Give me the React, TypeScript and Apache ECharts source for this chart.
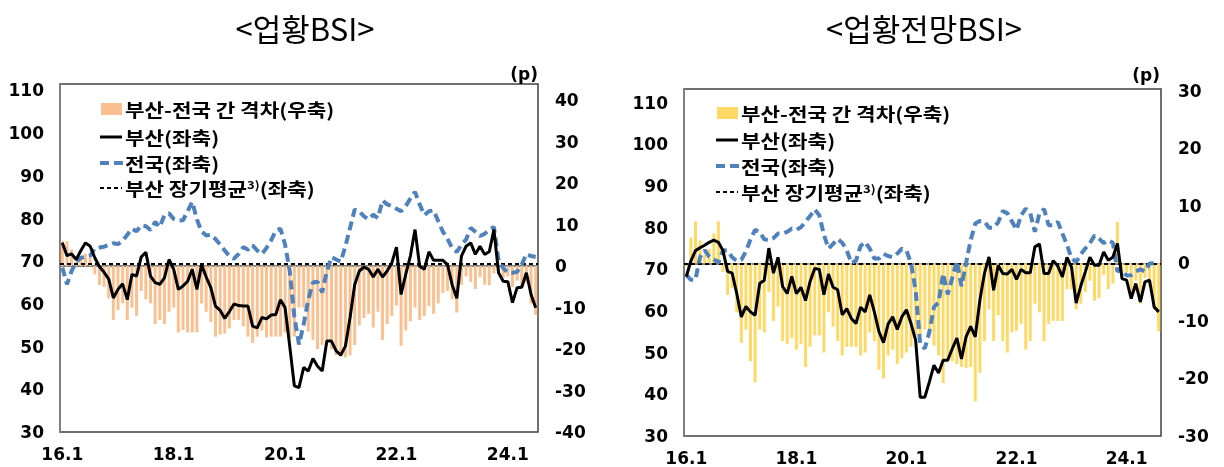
import React, { useEffect, useRef } from "react";
import * as echarts from "echarts";

// ---------- categories ----------
const months: string[] = [];
for (let y = 16; y <= 24; y++) for (let m = 1; m <= 12; m++) months.push(`${y}.${m}`);
const catsA = months.slice(0, 103); // 16.1 ~ 24.7
const catsB = months.slice(0, 104); // 16.1 ~ 24.8

// ---------- 업황BSI ----------
const busanA = [74.3, 71.3, 71.7, 70.4, 72.5, 74.3, 73.5, 70.8, 68.7, 67.4,
  65.8, 61.4, 63.4, 64.7, 61.0, 66.9, 66.5, 71.0, 72.1, 66.5,
  65.0, 64.6, 66.1, 70.4, 68.1, 63.4, 64.2, 65.3, 68.1, 63.4,
  69.2, 66.3, 63.8, 59.5, 58.5, 56.6, 58.2, 60.0, 59.6, 59.5,
  59.5, 54.8, 54.4, 56.8, 56.5, 57.4, 57.5, 61.0, 59.1, 50.1,
  40.8, 40.4, 45.1, 44.3, 47.2, 45.4, 44.3, 51.3, 51.3, 49.0,
  48.0, 50.1, 56.8, 64.5, 67.7, 68.6, 68.1, 66.3, 68.1, 66.3,
  67.7, 69.6, 73.3, 62.2, 66.9, 71.2, 77.4, 68.8, 68.1, 72.2,
  70.2, 70.2, 70.2, 69.2, 64.5, 61.3, 71.2, 73.5, 74.3, 71.6,
  73.5, 71.6, 72.2, 77.4, 67.3, 65.3, 65.2, 60.3, 63.8, 63.9,
  67.3, 62.2, 59.1];
const nationA = [68.5, 64.6, 67.7, 69.9, 70.8, 71.0, 71.3, 73.0, 73.2, 73.4,
  73.8, 74.2, 74.0, 74.8, 76.2, 77.6, 77.0, 78.4, 78.2, 77.3,
  79.2, 78.0, 80.8, 81.2, 79.9, 79.5, 79.6, 81.7, 83.9, 79.8,
  77.0, 76.0, 76.2, 75.2, 73.9, 72.5, 71.2, 70.6, 71.7, 73.3,
  72.7, 73.7, 72.5, 71.7, 73.1, 74.9, 77.2, 77.6, 73.9, 67.7,
  57.0, 50.5, 55.2, 61.0, 65.0, 65.2, 62.7, 67.6, 71.0, 70.4,
  69.9, 73.5, 77.8, 82.1, 81.7, 80.5, 79.8, 80.9, 80.1, 84.2,
  83.3, 82.9, 82.3, 81.7, 82.9, 84.7, 86.2, 83.3, 80.8, 81.7,
  81.9, 79.4, 76.9, 75.3, 73.0, 72.2, 73.8, 75.1, 77.8, 76.9,
  75.9, 76.4, 77.4, 78.0, 70.2, 68.4, 67.3, 67.3, 67.5, 69.2,
  71.7, 71.2, 71.0];
const gapA = [6, 6, 4, 1, 2, 3, 2, -2, -4.6, -5,
  -7.8, -13, -10.6, -9, -13, -10, -12, -6, -8, -9,
  -14, -13, -14, -11, -10, -16, -15.4, -16, -16, -16,
  -9, -11, -13.5, -17, -16.5, -16.3, -15, -13, -13, -14.5,
  -17, -18.5, -17, -15.5, -17.2, -17, -17, -17, -16, -17.5,
  -17, -10, -10, -15.8, -17.8, -20, -19, -18, -20, -21.5,
  -21.8, -22, -21.5, -19, -14.3, -12.5, -11.5, -14.8, -11, -17.8,
  -14, -12, -9.5, -19.2, -15.5, -13.3, -10, -13, -12, -9.6,
  -11.5, -9, -6.5, -6, -8, -11.2, -4.5, -2.5, -3.8, -5.5,
  -2.6, -4.5, -4.6, -1.8, -1.5, -2.8, -2.5, -5, -3.5, -5,
  -4, -9, -11.8];
const avgA = 69.3;

// ---------- 업황전망BSI ----------
const busanB = [68.3, 72.0, 74.5, 75.2, 75.8, 76.5, 77.0, 76.5, 74.5, 69.5,
  69.1, 64.2, 58.6, 61.1, 59.8, 59.0, 66.6, 67.4, 75.1, 69.1,
  72.9, 65.9, 64.2, 68.3, 64.2, 65.7, 62.5, 67.1, 70.2, 70.0,
  63.9, 68.9, 65.7, 65.1, 59.1, 60.6, 58.2, 57.0, 60.9, 59.8,
  63.9, 59.8, 55.1, 52.4, 56.9, 58.6, 55.6, 58.6, 60.3, 57.0,
  53.0, 39.3, 39.3, 43.0, 47.0, 45.1, 48.2, 48.2, 51.0, 53.5,
  48.5, 53.8, 56.3, 53.8, 62.5, 69.0, 73.0, 65.0, 71.0, 69.0,
  68.9, 70.0, 67.6, 70.0, 69.2, 69.2, 75.4, 76.1, 69.0, 69.0,
  72.1, 70.8, 68.2, 72.9, 70.5, 61.9, 66.0, 69.4, 72.9, 71.0,
  71.0, 74.2, 72.2, 72.9, 76.2, 67.8, 67.4, 63.0, 66.6, 62.2,
  67.0, 67.4, 61.0, 59.8];
const nationB = [68.7, 67.5, 67.5, 73.0, 74.6, 73.0, 72.4, 71.6, 74.6, 74.5,
  72.9, 72.0, 72.3, 74.3, 77.2, 79.5, 79.0, 77.2, 77.0, 77.5,
  78.6, 78.6, 79.0, 79.8, 79.5, 80.1, 81.5, 82.8, 84.4, 83.0,
  78.3, 75.0, 76.1, 77.3, 76.4, 74.5, 71.5, 72.1, 75.6, 76.6,
  75.0, 72.6, 72.6, 73.7, 73.2, 72.9, 73.8, 75.0, 74.5, 71.5,
  65.0, 52.0, 51.0, 55.0, 61.0, 62.0, 69.0, 64.0, 68.0, 72.0,
  66.0, 71.5, 77.0, 81.0, 81.6, 81.5, 80.0, 80.0, 81.3, 84.0,
  83.5, 81.5, 79.5, 83.0, 84.6, 83.5, 79.0, 83.5, 84.5, 80.6,
  80.6, 81.4, 78.6, 75.9, 72.6, 71.8, 73.6, 75.0, 76.3, 78.1,
  77.4, 76.3, 77.0, 76.4, 69.5, 70.0, 68.5, 68.6, 69.5, 70.0,
  69.5, 71.4, 71.5, 71.5];
const gapB = [-0.5, 4.5, 7.3, 4, 1.5, 2.5, 5.2, 7.3, -1.5, -5.5,
  -4.3, -8.5, -13.8, -11.5, -17, -20.7, -11.5, -12, -5, -10,
  -7.5, -13.5, -14, -13, -15, -14, -18, -14.5, -12.5, -12.5,
  -15.5, -8.5, -11, -13.5, -16, -14.5, -14.5, -14.5, -16, -15.5,
  -12, -13.5, -18.5, -20, -16, -15, -17.5, -16.5, -15.5, -14.5,
  -12.5, -12.5, -11.5, -12, -14.3, -16, -20.8, -17, -17, -17.5,
  -18, -18.2, -18, -24, -19, -13.5, -8, -13.5, -9, -13.5,
  -15.5, -12, -11.7, -10.5, -15, -13.5, -7, -8.5, -13.5, -10.5,
  -10, -10, -10, -4.5, -4.5, -8, -7, -5, -3, -6.5,
  -6, -2, -4.5, -3.5, 7.2, -2.5, -1.5, -5.5, -3, -7,
  -2.5, -4, -8, -11.8];
const avgB = 71.3;

const NUM_FONT = "DejaVu Sans";
const KR_FONT = "Noto Sans CJK KR";
const BLUE = "#4F81BD";
const ORANGE = "#FAC090";
const YELLOW = "#FFD966";

function legendBlock(x0: number, ys: number[], barColor: string) {
  const iconL = x0, iconR = x0 + 22, tx = x0 + 25;
  const font = `bold 18px "${KR_FONT}"`;
  const SX = 1.18;
  const t = (text: string, y: number) => ({
    type: "text", x: tx, y, scaleX: SX,
    style: { text, font, fill: "#000", verticalAlign: "middle", lineHeight: 20 },
  });
  return [
    { type: "rect", shape: { x: iconL + 1, y: ys[0] - 6, width: 21, height: 12 }, style: { fill: barColor } },
    t("부산-전국 간 격차(우축)", ys[0]),
    { type: "line", shape: { x1: iconL, y1: ys[1], x2: iconR, y2: ys[1] }, style: { stroke: "#000", lineWidth: 3 } },
    t("부산(좌축)", ys[1]),
    { type: "line", shape: { x1: iconL, y1: ys[2], x2: iconR + 2, y2: ys[2] }, style: { stroke: BLUE, lineWidth: 4, lineDash: [9, 5] } },
    t("전국(좌축)", ys[2]),
    { type: "line", shape: { x1: iconL, y1: ys[3], x2: iconR, y2: ys[3] }, style: { stroke: "#000", lineWidth: 2, lineDash: [4, 3] } },
    {
      type: "text", x: tx, y: ys[3], scaleX: SX,
      style: {
        text: "{a|부산 장기평균}{s|3)}{a|(좌축)}",
        verticalAlign: "middle",
        rich: {
          a: { font, fill: "#000", lineHeight: 20 },
          s: { font: `bold 11px "${KR_FONT}"`, fill: "#000", verticalAlign: "top", lineHeight: 20 },
        },
      },
    },
  ];
}

function axisLabelStyle(extra: any = {}) {
  return { fontFamily: NUM_FONT, fontWeight: "bold", fontSize: 17, color: "#000", ...extra };
}

export default function App() {
  const ref = useRef<HTMLDivElement>(null);
  useEffect(() => {
    if (!ref.current) return;
    const chart = echarts.init(ref.current, undefined, { renderer: "svg" });
    const xAxisBase = (gridIndex: number, data: string[]) => ({
      type: "category", gridIndex, data, boundaryGap: true,
      axisLine: { show: true, lineStyle: { color: "#7f7f7f", width: 2 } },
      axisTick: { show: false },
      axisLabel: axisLabelStyle({ interval: (i: number) => i % 24 === 0, margin: 13 }),
      splitLine: { show: false },
    });
    const yLeft = (gridIndex: number, max: number) => ({
      type: "value", gridIndex, min: 30, max, interval: 10, position: "left",
      axisLine: { show: true, lineStyle: { color: "#7f7f7f", width: 2 } },
      axisTick: { show: false }, splitLine: { show: false },
      axisLabel: axisLabelStyle({ showMaxLabel: false, margin: 16 }),
    });
    const yRight = (gridIndex: number, min: number, max: number) => ({
      type: "value", gridIndex, min, max, interval: 10, position: "right",
      axisLine: { show: false }, axisTick: { show: false }, splitLine: { show: false },
      axisLabel: axisLabelStyle({ showMaxLabel: false, margin: 17 }),
    });
    const seriesFor = (xi: number, yl: number, yr: number, busan: number[], nation: number[], gap: number[], avg: number, barColor: string) => [
      {
        name: "부산-전국 간 격차(우축)", type: "bar", xAxisIndex: xi, yAxisIndex: yr, data: gap,
        barWidth: 3, itemStyle: { color: barColor }, z: 1,
      },
      {
        name: "부산(좌축)", type: "line", xAxisIndex: xi, yAxisIndex: yl, data: busan,
        symbol: "none", lineStyle: { color: "#000", width: 3 }, z: 4,
        markLine: {
          silent: true, symbol: "none", label: { show: false },
          lineStyle: { color: "#000", type: [4, 3], width: 2 },
          data: [{ yAxis: avg }], z: 2,
        },
      },
      {
        name: "전국(좌축)", type: "line", xAxisIndex: xi, yAxisIndex: yl, data: nation,
        symbol: "none", lineStyle: { color: BLUE, width: 4, type: [9, 5] }, z: 3,
      },
    ];
    chart.setOption({
      animation: false,
      grid: [
        { left: 60, top: 84, width: 478, height: 348, show: true, borderColor: "#404040", borderWidth: 1.5, backgroundColor: "transparent" },
        { left: 684, top: 89, width: 477, height: 347, show: true, borderColor: "#404040", borderWidth: 1.5, backgroundColor: "transparent" },
      ],
      xAxis: [xAxisBase(0, catsA), xAxisBase(1, catsB)],
      yAxis: [yLeft(0, 111.5), yRight(0, -40, 43.9), yLeft(1, 113.3), yRight(1, -30, 30.3)],
      series: [
        ...seriesFor(0, 0, 1, busanA, nationA, gapA, avgA, ORANGE),
        ...seriesFor(1, 2, 3, busanB, nationB, gapB, avgB, YELLOW),
      ],
      graphic: [
        { type: "text", x: 305, y: 27, style: { text: "<업황BSI>", font: `31px "${KR_FONT}"`, fill: "#000", align: "center", verticalAlign: "middle" } },
        { type: "text", x: 924, y: 27, style: { text: "<업황전망BSI>", font: `31px "${KR_FONT}"`, fill: "#000", align: "center", verticalAlign: "middle" } },
        { type: "text", x: 538, y: 74, style: { text: "(p)", font: `bold 17px "${NUM_FONT}"`, fill: "#000", align: "right", verticalAlign: "middle" } },
        { type: "text", x: 1160, y: 75, style: { text: "(p)", font: `bold 17px "${NUM_FONT}"`, fill: "#000", align: "right", verticalAlign: "middle" } },
        ...legendBlock(100, [109, 137, 163, 188], ORANGE),
        ...legendBlock(716, [113, 140, 166, 192], YELLOW),
      ],
    });
    return () => chart.dispose();
  }, []);
  return <div ref={ref} style={{ position: "fixed", left: 0, top: 0, width: 1224, height: 467 }} />;
}
